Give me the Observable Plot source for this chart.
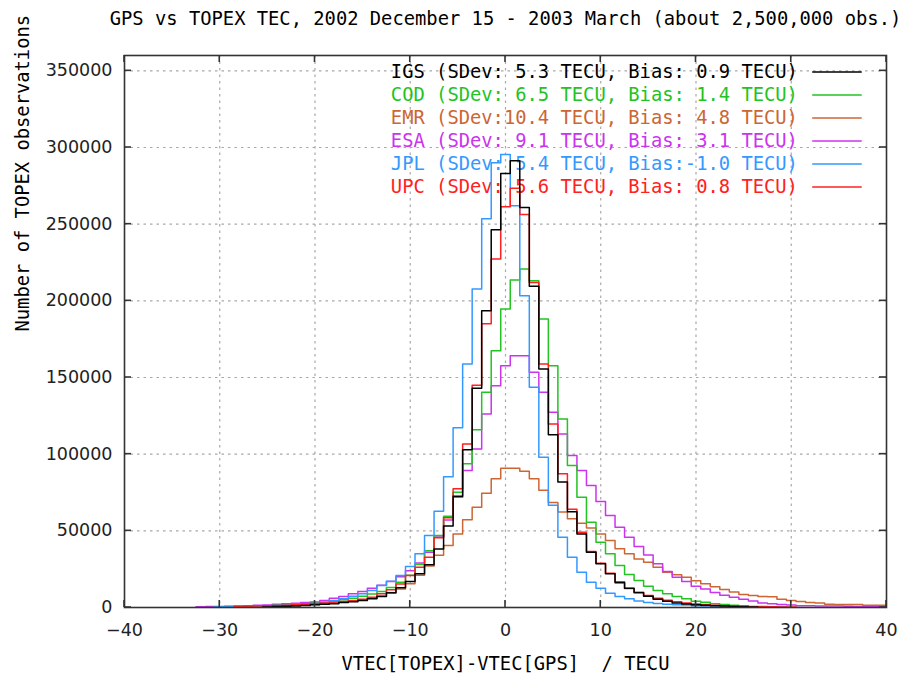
<!DOCTYPE html>
<html><head><meta charset="utf-8">
<script src="https://cdn.jsdelivr.net/npm/d3@7"></script>
<script src="https://cdn.jsdelivr.net/npm/@observablehq/plot@0.6"></script>
<style>
body{margin:0;background:#fff;}
#chart svg{display:block;}
</style></head><body><div id="chart"></div>
<script>
// ---- data (histogram counts per 1-TECU bin, bins centred on integers) ----
const seriesNames = ["IGS","COD","EMR","ESA","JPL","UPC"];
const legendLabels = [
  "IGS (SDev: 5.3 TECU, Bias: 0.9 TECU)",
  "COD (SDev: 6.5 TECU, Bias: 1.4 TECU)",
  "EMR (SDev:10.4 TECU, Bias: 4.8 TECU)",
  "ESA (SDev: 9.1 TECU, Bias: 3.1 TECU)",
  "JPL (SDev: 5.4 TECU, Bias:-1.0 TECU)",
  "UPC (SDev: 5.6 TECU, Bias: 0.8 TECU)"
];
const seriesColors = ["#000000","#22c322","#cc6633","#cc33ee","#3399ff","#ff2020"];

const igsStart = -25;
const igsCounts = [400,600,800,1000,1300,1800,2200,2500,3200,3700,4600,5700,7200,9600,12800,16900,22000,27800,38200,53200,72500,102800,143000,193600,246300,283000,291300,260900,209500,155600,112600,81900,62500,48000,36000,28500,22000,16100,12600,9600,7400,5400,4100,3000,2300,1800,1400,1100,900,700,500,300];

const codStart = -30;
const codCounts = [400,500,600,700,900,1100,1400,1700,2100,2500,3000,3500,4200,5000,6000,7300,8800,10500,13000,16500,21000,28000,37000,47000,59500,75200,93700,116000,140300,167500,194700,213600,220800,213100,188200,157700,123000,92600,71900,55600,42600,35000,27400,21500,17600,13900,11100,8900,7200,5700,4100,3500,2400,2000,1500,1200];

const emrStart = -27;
const emrCounts = [500,600,700,900,1100,1300,1600,1900,2300,2800,3400,4100,4900,6000,7500,9500,12000,15500,21000,27000,34000,40500,48000,57200,65400,74500,83900,90800,90800,88800,83900,76500,68500,62300,57800,55000,51900,48000,43700,38300,35000,31700,29500,26300,23000,21300,19800,17500,15500,13500,11700,10100,8500,7800,7200,7000,5400,4600,3900,3200,2900,2200,2000,2000,1900,1500,1500,1400];

const esaStart = -32;
const esaCounts = [500,600,700,800,1000,1200,1400,1700,2100,2400,2700,3200,3600,4600,6100,7200,8900,10400,12600,14500,17000,20000,24000,29000,36000,46000,57000,71900,89300,103400,126200,144700,157700,164200,164200,153400,140300,127300,113200,99100,89300,79500,69100,60000,52300,45800,39800,34300,28500,23500,19800,16900,13800,12000,9800,8000,6700,5400,4300,3000,2400,2000,1700,1200,1100,1000,1000,900,800,600,500,500,500];

const jplStart = -30;
const jplCounts = [500,600,700,800,1000,1200,1400,1700,2000,2300,2800,3500,4600,5700,7400,8900,11100,14300,17200,20900,26700,35000,46900,62700,85200,117300,158800,207700,253500,290000,295500,262000,203300,143600,98000,66700,45800,32800,23000,16500,12600,9300,7200,5700,4300,3300,2600,2200,1800,1600,1200,1000,900,800,700,600,500,500,400,400];

const upcStart = -28;
const upcCounts = [700,800,900,1100,1300,1500,1800,2200,2600,3000,3400,3900,4500,5400,6700,8900,11500,15400,20900,26300,32800,45500,58600,77400,106700,145000,185000,227300,261400,273500,256300,212000,158800,119700,87300,64000,49100,36500,28900,22300,16800,12400,10000,7800,6000,4700,3700,2900,2300,1900,1500,1200,1000,800,700,600,500,400,400];

const xTicks = [-40,-30,-20,-10,0,10,20,30,40];
const yTicks = [0,50000,100000,150000,200000,250000,300000,350000];
const gridXTicks = [-30,-20,-10,0,10,20,30];
const gridYTicks = [50000,100000,150000,200000,250000,300000,350000];

const titleText = "GPS vs TOPEX TEC, 2002 December 15 - 2003 March (about 2,500,000 obs.)";
const xLabel = "VTEC[TOPEX]-VTEC[GPS]  / TECU";
const yLabel = "Number of TOPEX observations";

// ---- build step outlines ----
function steps(name, start, counts) {
  const pts = counts.map((v, i) => ({series: name, x: start + i - 0.5, y: v}));
  pts.push({series: name, x: start + counts.length - 0.5, y: counts[counts.length - 1]});
  return pts;
}
const seriesData = {
  IGS: steps("IGS", igsStart, igsCounts),
  COD: steps("COD", codStart, codCounts),
  EMR: steps("EMR", emrStart, emrCounts),
  ESA: steps("ESA", esaStart, esaCounts),
  JPL: steps("JPL", jplStart, jplCounts),
  UPC: steps("UPC", upcStart, upcCounts)
};
const colorOf = Object.fromEntries(seriesNames.map((n, i) => [n, seriesColors[i]]));
const drawOrder = ["EMR","ESA","COD","JPL","UPC","IGS"];

const MONO = "'DejaVu Sans Mono', 'Liberation Mono', monospace";
const SANS = "'DejaVu Sans', sans-serif";

// legend layout (in data coordinates of the plot)
const legendRows = legendLabels.map((label, i) => ({
  label, color: seriesColors[i], y: 349300 - i * 15000
}));

const marks = [
  Plot.gridX(gridXTicks, {stroke: "#a8a8a8", strokeOpacity: 1, strokeWidth: 1.2, strokeDasharray: "2.5,4"}),
  Plot.gridY(gridYTicks, {stroke: "#a8a8a8", strokeOpacity: 1, strokeWidth: 1.2, strokeDasharray: "2.5,4"}),
  Plot.text(legendRows, {x: 30.7, y: "y", text: "label", fill: "color", textAnchor: "end", fontFamily: MONO, fontSize: 18.8, lineAnchor: "middle"}),
  Plot.link(legendRows, {x1: 32.2, x2: 37.4, y1: "y", y2: "y", stroke: "color", strokeWidth: 1.5}),
  ...drawOrder.map(n => Plot.line(seriesData[n], {x: "x", y: "y", curve: "step-after", stroke: colorOf[n], strokeWidth: 1.5, clip: true})),
  Plot.frame({stroke: "#333", strokeWidth: 1.6}),
  Plot.text(xTicks, {x: d => d, frameAnchor: "bottom", dy: 23, text: d => String(d).replace("-", "\u2212"), fontFamily: SANS, fontSize: 17.5, fill: "#222", lineAnchor: "middle"}),
  Plot.text(yTicks, {y: d => d, frameAnchor: "left", dx: -12, text: d => String(d), textAnchor: "end", fontFamily: SANS, fontSize: 17.5, fill: "#222", lineAnchor: "middle"}),
  Plot.text([titleText], {frameAnchor: "top", dy: -37, fontFamily: MONO, fontSize: 18.8, fill: "#000", lineAnchor: "middle"}),
  Plot.text([xLabel], {frameAnchor: "bottom", dy: 56, fontFamily: MONO, fontSize: 18.8, fill: "#000", lineAnchor: "middle"}),
  Plot.text([yLabel], {frameAnchor: "left", dx: -102, rotate: -90, fontFamily: MONO, fontSize: 18.8, fill: "#000", lineAnchor: "middle"})
];

const plot = Plot.plot({
  width: 908,
  height: 674,
  marginLeft: 124,
  marginRight: 22,
  marginTop: 55,
  marginBottom: 67,
  style: {background: "#fff", overflow: "visible"},
  x: {domain: [-40, 40], axis: null},
  y: {domain: [0, 360000], axis: null},
  marks
});

// inward tick marks on all four sides (mirrored like the original)
const sx = plot.scale("x").apply, sy = plot.scale("y").apply;
const svg = d3.select(plot);
const g = svg.append("g").attr("stroke", "#333").attr("stroke-width", 1.6);
const L = sx(-40), R = sx(40), B = sy(0), T = sy(360000), tk = 7;
xTicks.forEach(t => {
  g.append("line").attr("x1", sx(t)).attr("x2", sx(t)).attr("y1", B).attr("y2", B - tk);
  g.append("line").attr("x1", sx(t)).attr("x2", sx(t)).attr("y1", T).attr("y2", T + tk);
});
yTicks.forEach(t => {
  g.append("line").attr("y1", sy(t)).attr("y2", sy(t)).attr("x1", L).attr("x2", L + tk);
  g.append("line").attr("y1", sy(t)).attr("y2", sy(t)).attr("x1", R).attr("x2", R - tk);
});

document.getElementById("chart").appendChild(plot);
</script>
</body></html>
